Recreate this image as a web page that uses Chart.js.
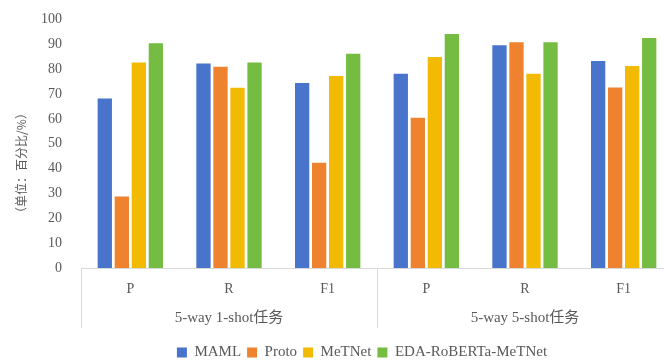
<!DOCTYPE html>
<html>
<head>
<meta charset="utf-8">
<script src="https://cdn.jsdelivr.net/npm/chart.js@4/dist/chart.umd.min.js"></script>
<style>
html,body{margin:0;padding:0;overflow:hidden;background:#fff;}
#wrap{position:relative;width:724px;height:370px;}
</style>
</head>
<body>
<div id="wrap"><canvas id="c" width="724" height="370"></canvas></div>
<script>
const categories = ["P", "R", "F1", "P", "R", "F1"];
const groupLabels = ["5-way 1-shot任务", "5-way 5-shot任务"];
const seriesNames = ["MAML", "Proto", "MeTNet", "EDA-RoBERTa-MeTNet"];
const maml  = [68.2, 82.3, 74.4, 78.1, 89.6, 83.3];
const proto = [28.8, 81.0, 42.3, 60.4, 90.8, 72.6];
const metnet = [82.7, 72.5, 77.2, 84.9, 78.1, 81.3];
const eda   = [90.4, 82.7, 86.2, 94.1, 90.8, 92.5];
const seriesColors = ["#4874CB", "#EE822F", "#F2BA02", "#75BD42"];
const yTicks = [0, 10, 20, 30, 40, 50, 60, 70, 80, 90, 100];
const yTitle = "（单位：百分比/%）";

const serif = "'Liberation Serif', 'Noto Sans CJK SC', serif";
const textColor = "#595959";
const lineColor = "#D9D9D9";

const separators = {
  id: "separators",
  afterDraw(chart) {
    const {ctx, chartArea} = chart;
    const xs = chart.scales.x;
    const mid = (xs.getPixelForValue(2) + xs.getPixelForValue(3)) / 2;
    const y0 = chartArea.bottom, y1 = chartArea.bottom + 60;
    ctx.save();
    ctx.strokeStyle = lineColor;
    ctx.lineWidth = 1;
    [chartArea.left, mid, chartArea.right].forEach(x => {
      const px = Math.round(x) + 0.5;
      ctx.beginPath(); ctx.moveTo(px, y0); ctx.lineTo(px, y1); ctx.stroke();
    });
    // y axis title
    ctx.translate(21, 163);
    ctx.rotate(-Math.PI / 2);
    ctx.fillStyle = textColor;
    ctx.font = "12px 'Noto Sans CJK SC', sans-serif";
    ctx.textAlign = "center";
    ctx.textBaseline = "middle";
    ctx.fillText(yTitle, 0, 0);
    ctx.restore();
  }
};

const data = [maml, proto, metnet, eda];
new Chart(document.getElementById("c"), {
  type: "bar",
  data: {
    labels: categories,
    datasets: seriesNames.map((n, i) => ({
      label: n,
      data: data[i],
      backgroundColor: seriesColors[i],
      borderWidth: 0,
      categoryPercentage: 0.69,
      barPercentage: 0.84
    }))
  },
  options: {
    responsive: false,
    animation: false,
    events: [],
    layout: {padding: {top: 16, left: 0, right: 0, bottom: 0}},
    plugins: {
      tooltip: {enabled: false},
      legend: {
        position: "bottom",
        labels: {
          boxWidth: 10, boxHeight: 10, padding: 6,
          color: textColor,
          font: {family: serif, size: 15}
        }
      }
    },
    scales: {
      y: {
        min: 0, max: 100,
        afterBuildTicks(s) { s.ticks = yTicks.map(v => ({value: v})); },
        afterFit(s) { s.width = 81; },
        grid: {display: false},
        border: {display: false},
        ticks: {color: textColor, padding: 11, font: {family: serif, size: 14}}
      },
      yR: {
        position: "right",
        display: true,
        grid: {display: false},
        border: {display: false},
        ticks: {display: false},
        afterFit(s) { s.width = 51; }
      },
      x: {
        afterFit(s) { s.height = 34; },
        grid: {display: false, drawTicks: false},
        border: {display: true, color: lineColor},
        ticks: {color: textColor, padding: 13, maxRotation: 0, autoSkip: false, font: {family: serif, size: 14}}
      },
      x2: {
        type: "category",
        labels: groupLabels,
        position: "bottom",
        offset: true,
        afterFit(s) { s.height = 37; },
        grid: {display: false, drawTicks: false},
        border: {display: false},
        ticks: {color: textColor, padding: 7, maxRotation: 0, autoSkip: false, font: {family: serif, size: 15}}
      }
    }
  },
  plugins: [separators]
});
</script>
</body>
</html>
